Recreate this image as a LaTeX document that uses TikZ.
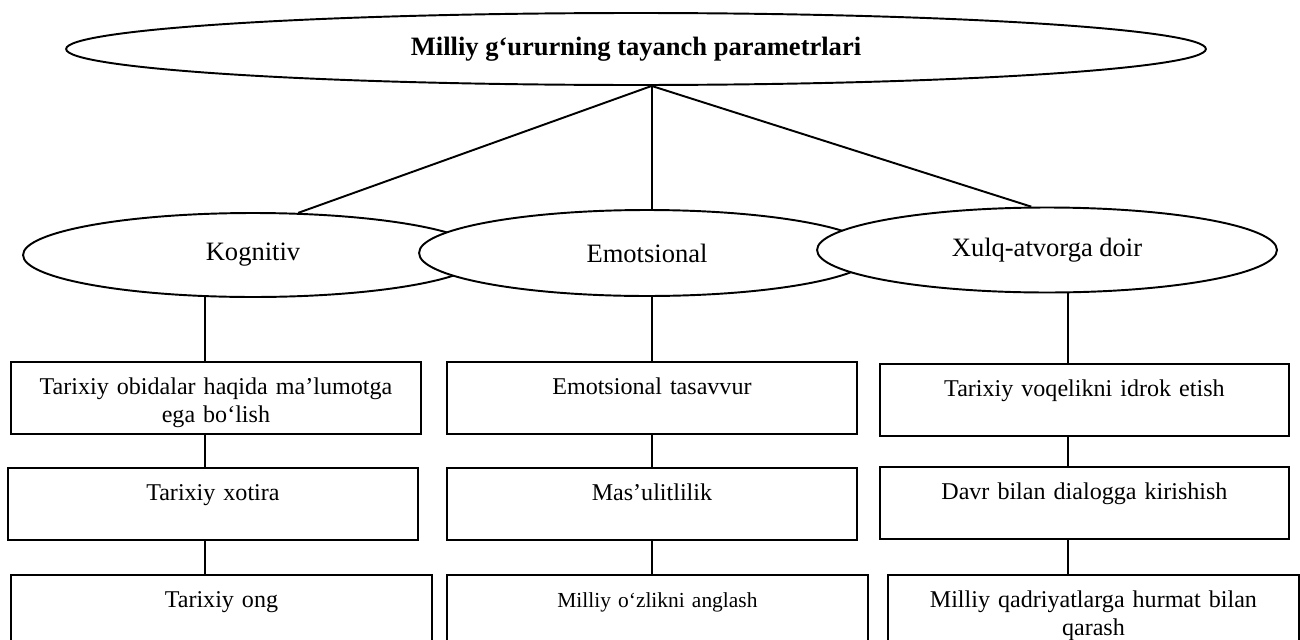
\documentclass[tikz,border=0pt]{standalone}
\usepackage{fontspec}
\setmainfont{Liberation Serif}
\usetikzlibrary{shapes.geometric}
\tikzset{oval/.style={ellipse, draw, fill=white, line width=1.1pt, inner sep=0pt, font=\fontsize{15.1}{18}\selectfont},
         box/.style={draw, fill=white, line width=1.1pt, inner sep=0pt, anchor=north west, align=center,
                     text height=0.66cm, text depth=0.78cm, font=\fontsize{13.7}{15.9}\selectfont},
         link/.style={line width=1.1pt}}

\begin{document}
\begin{tikzpicture}[x=0.02cm, y=-0.02cm]
                \useasboundingbox (0,0) rectangle (1300,639);
                \clip (0,0) rectangle (1300,639);

                % top and the three groups
                \node[oval, minimum width=22.8cm, minimum height=1.44cm,
                      font=\fontsize{15.1}{18}\selectfont\bfseries] (title) at (636,49) {Milliy g‘ururning tayanch parametrlari};
                \node[oval, minimum width=9.2cm, minimum height=1.68cm] (kog) at (253,255) {Kognitiv};
                \node[oval, minimum width=9.12cm, minimum height=1.72cm] (emo) at (647,253) {Emotsional};
                \node[oval, minimum width=9.2cm, minimum height=1.7cm] (xulq) at (1047,250) {Xulq-atvorga doir};

                \draw[link] (title.-67) -- (kog.43);
                \draw[link] (title.-67) -- (title.-67 |- emo.north);
                \draw[link] (title.-67) -- (xulq.110);

                % boxes
                \node[box, text width=8.2cm] (a1) at (10,361) {Tarixiy obidalar haqida ma’lumotga\\ega bo‘lish};
                \node[box, text width=8.2cm] (a2) at (7,467) {Tarixiy xotira};
                \node[box, text width=8.42cm] (a3) at (10,574) {Tarixiy ong};

                \node[box, text width=8.2cm] (b1) at (446,361) {Emotsional tasavvur};
                \node[box, text width=8.2cm] (b2) at (446,467) {Mas’ulitlilik};
                \node[box, text width=8.42cm, font=\fontsize{12.2}{14.5}\selectfont] (b3) at (446,574) {Milliy o‘zlikni anglash};

                \node[box, text width=8.18cm] (c1) at (879,363) {Tarixiy voqelikni idrok etish};
                \node[box, text width=8.18cm] (c2) at (879,466) {Davr bilan dialogga kirishish};
                \node[box, text width=8.22cm] (c3) at (887,574) {Milliy qadriyatlarga hurmat bilan\\qarash};

                \draw[link] (kog.221) -- (kog.221 |- a1.north);
                \draw[link] (kog.221 |- a1.south) -- (kog.221 |- a2.north);
                \draw[link] (kog.221 |- a2.south) -- (kog.221 |- a3.north);

                \draw[link] (b1.north |- emo.south) -- (b1.north);
                \draw[link] (b1.south) -- (b2.north);
                \draw[link] (b2.south) -- (b2.south |- b3.north);

                \draw[link] (xulq.-64) -- (xulq.-64 |- c1.north);
                \draw[link] (xulq.-64 |- c1.south) -- (xulq.-64 |- c2.north);
                \draw[link] (xulq.-64 |- c2.south) -- (xulq.-64 |- c3.north);

            \end{tikzpicture}
\end{document}
